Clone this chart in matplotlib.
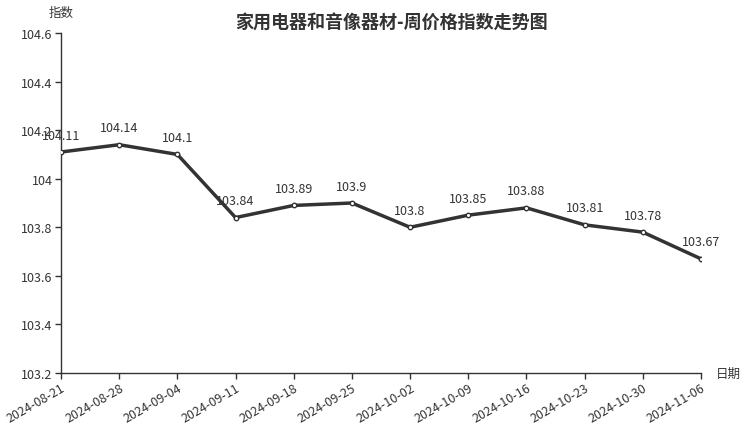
import matplotlib
matplotlib.use("Agg")
import matplotlib.pyplot as plt

plt.rcParams['font.family'] = ['Noto Sans CJK SC', 'DejaVu Sans']

dates = ['2024-08-21', '2024-08-28', '2024-09-04', '2024-09-11', '2024-09-18', '2024-09-25',
         '2024-10-02', '2024-10-09', '2024-10-16', '2024-10-23', '2024-10-30', '2024-11-06']
values = [104.11, 104.14, 104.1, 103.84, 103.89, 103.9, 103.8, 103.85, 103.88, 103.81, 103.78, 103.67]
yticks = [103.2, 103.4, 103.6, 103.8, 104, 104.2, 104.4, 104.6]
ytick_labels = ['103.2', '103.4', '103.6', '103.8', '104', '104.2', '104.4', '104.6']

text_color = '#333333'

fig = plt.figure(figsize=(7.52, 4.27), dpi=100)
ax = fig.add_axes([61 / 752, 53 / 427, 640 / 752, 340 / 427])

x = list(range(len(dates)))
ax.plot(x, values, color='#333333', linewidth=2.5, marker='o', markersize=3.2,
        markerfacecolor='white', markeredgecolor='#333333', markeredgewidth=1, zorder=3)

# value labels above each point
for xi, v in zip(x, values):
    ax.annotate(f'{v:g}', (xi, v), xytext=(0, 7.5), textcoords='offset points',
                ha='center', va='bottom', fontsize=9, color=text_color)

ax.set_xlim(0, len(dates) - 1)
ax.set_ylim(103.2, 104.6)
ax.set_xticks(x)
ax.set_xticklabels(dates, rotation=30, ha='right', rotation_mode='anchor', fontsize=9, color=text_color)
ax.set_yticks(yticks)
ax.set_yticklabels(ytick_labels, fontsize=9, color=text_color)
ax.tick_params(axis='both', length=4, width=1, color=text_color, pad=2)

for side in ['top', 'right']:
    ax.spines[side].set_visible(False)
for side in ['left', 'bottom']:
    ax.spines[side].set_color(text_color)
    ax.spines[side].set_linewidth(1)

fig.text(61 / 752, 1 - 13 / 427, '指数', ha='center', va='center', fontsize=9, color=text_color)
fig.text(728 / 752, 1 - 374 / 427, '日期', ha='center', va='center', fontsize=9, color=text_color)
fig.text(391 / 752, 1 - 22 / 427, '家用电器和音像器材-周价格指数走势图', ha='center', va='center',
         fontsize=13, fontweight='bold', color=text_color)

fig.savefig('out.png', dpi=100)
